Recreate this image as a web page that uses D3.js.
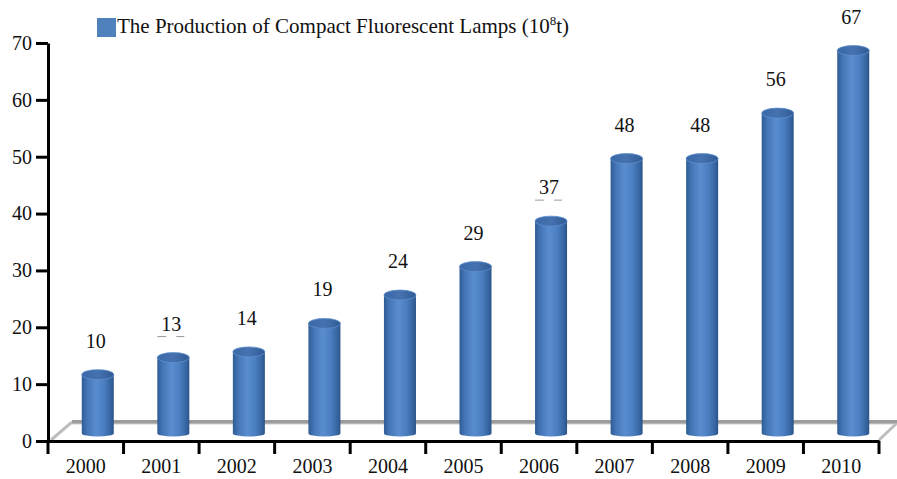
<!DOCTYPE html>
<html>
<head>
<meta charset="utf-8">
<script src="https://cdn.jsdelivr.net/npm/d3@7/dist/d3.min.js"></script>
<style>
  html, body { margin: 0; padding: 0; background: #fff; }
  svg { display: block; }
  svg text { font-family: "Liberation Serif", "Times New Roman", serif; fill: #111; }
</style>
</head>
<body>
<svg id="chart" width="897" height="479"></svg>
<script>
// Annual output of compact fluorescent lamps (10^8 units)
const years = ["2000","2001","2002","2003","2004","2005","2006","2007","2008","2009","2010"];
const production = [10, 13, 14, 19, 24, 29, 37, 48, 48, 56, 67];
const yTicks = [0, 10, 20, 30, 40, 50, 60, 70];
const legendLabel = "The Production of Compact Fluorescent Lamps (10";

const svg = d3.select("#chart");

const x = d3.scaleBand().domain(years).range([48, 879]).padding(0);
const y = d3.scaleLinear().domain([0, 70]).range([441, 43]);

// 3D floor depth: back edge offset, bars sit at mid-depth
const depthX = 24, depthY = 19;
const midX = depthX / 2, midY = depthY / 2;

// Floor: light side edges, heavier back edge
const x0 = x.range()[0], x1 = x.range()[1], yb = y(0);
svg.append("path")
  .attr("d", `M${x0 + 3},${yb - 1} L${x0 + depthX},${yb - depthY}`)
  .attr("stroke", "#bdbdbd").attr("stroke-width", 3).attr("fill", "none");
svg.append("path")
  .attr("d", `M${x1 + depthX - 6},${yb - depthY + 1} L${x1},${yb - 1}`)
  .attr("stroke", "#bdbdbd").attr("stroke-width", 3).attr("fill", "none");
svg.append("path")
  .attr("d", `M${x0 + depthX},${yb - depthY} L${x1 + depthX - 4},${yb - depthY}`)
  .attr("stroke", "#9c9c9c").attr("stroke-width", 4).attr("fill", "none");
svg.append("path")
  .attr("d", `M${x0 + depthX},${yb - depthY + 2} L${x1 + depthX - 6},${yb - depthY + 2}`)
  .attr("stroke", "#d0d0d0").attr("stroke-width", 1).attr("fill", "none");

// Cylinder shading
const defs = svg.append("defs");
const grad = defs.append("linearGradient").attr("id", "cyl").attr("x1", "0%").attr("x2", "100%");
[["0%", "#2f5c95"], ["18%", "#4577b8"], ["45%", "#5a8dcf"], ["70%", "#4b7ec0"], ["92%", "#34639e"], ["100%", "#2a5185"]]
  .forEach(([o, c]) => grad.append("stop").attr("offset", o).attr("stop-color", c));
const topGrad = defs.append("linearGradient").attr("id", "cylTop").attr("x1", "0%").attr("x2", "100%");
[["0%", "#3a68a6"], ["50%", "#4673b0"], ["100%", "#2f5a94"]]
  .forEach(([o, c]) => topGrad.append("stop").attr("offset", o).attr("stop-color", c));

const barW = 32, rx = barW / 2, ry = 5, bry = 3;
const bars = svg.append("g").selectAll("g")
  .data(years.map((yr, i) => ({ yr, v: production[i] })))
  .join("g");

const cx = d => x(d.yr) + x.bandwidth() / 2 + midX;
const base = y(0) - midY + 2;
const topY = d => y(d.v) - midY;

bars.append("path")
  .attr("d", d => {
    const c = cx(d), t = topY(d);
    return `M${c - rx},${t} L${c - rx},${base} A${rx},${bry} 0 0 0 ${c + rx},${base} L${c + rx},${t} Z`;
  })
  .attr("fill", "url(#cyl)");
bars.append("ellipse")
  .attr("cx", cx).attr("cy", topY)
  .attr("rx", rx).attr("ry", ry)
  .attr("fill", "url(#cylTop)")
  .attr("stroke", "#5d8fcf").attr("stroke-width", 0.8);

// Value labels
bars.append("text")
  .attr("x", d => cx(d) - 2)
  .attr("y", d => topY(d) - 27)
  .attr("text-anchor", "middle")
  .style("font-size", "20px")
  .text(d => d.v);

// Small leader marks under a couple of labels
[1, 6].forEach(i => {
  const d = { yr: years[i], v: production[i] };
  const c = cx(d) - 2, ly = topY(d) - 21;
  [[-14, -5], [5, 13]].forEach(([a, b]) =>
    svg.append("line").attr("x1", c + a).attr("x2", c + b).attr("y1", ly).attr("y2", ly)
      .attr("stroke", "#9a9a9a").attr("stroke-width", 1));
});

// Y axis
const yAxis = svg.append("g")
  .attr("transform", `translate(${x0},0)`)
  .call(d3.axisLeft(y).tickValues(yTicks).tickSize(12).tickSizeOuter(0).tickPadding(4));
yAxis.select(".domain").attr("stroke", "#000").attr("stroke-width", 3);
yAxis.selectAll(".tick line").attr("stroke", "#000").attr("stroke-width", 3);
yAxis.selectAll(".tick text").style("font-size", "20px");

// X axis: labels centred on categories, ticks on boundaries
const xAxis = svg.append("g")
  .attr("transform", `translate(0,${y(0)})`)
  .call(d3.axisBottom(x).tickSize(0).tickPadding(18));
xAxis.select(".domain").attr("stroke", "#000").attr("stroke-width", 3);
xAxis.selectAll(".tick text").style("font-size", "20px");
const bounds = years.map(d => x(d)).concat([x1]);
xAxis.selectAll(".bound").data(bounds).join("line")
  .attr("class", "bound")
  .attr("x1", d => d).attr("x2", d => d)
  .attr("y1", 0).attr("y2", 13)
  .attr("stroke", "#000").attr("stroke-width", 3);

// Legend
svg.append("rect").attr("x", 97).attr("y", 18).attr("width", 19).attr("height", 19)
  .attr("fill", "#4f81bd");
const lt = svg.append("text").attr("x", 117).attr("y", 33).style("font-size", "21px");
lt.append("tspan").text(legendLabel);
lt.append("tspan").style("font-size", "13px").attr("dy", -8).text("8");
lt.append("tspan").attr("dy", 8).text("t)");
</script>
</body>
</html>
